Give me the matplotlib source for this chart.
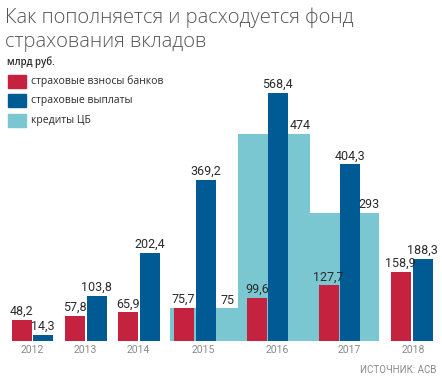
import matplotlib
matplotlib.use("Agg")
import matplotlib.pyplot as plt
from matplotlib.patches import Rectangle

years = ["2012", "2013", "2014", "2015", "2016", "2017", "2018"]
contributions = [48.2, 57.8, 65.9, 75.7, 99.6, 127.7, 158.9]
payouts = [14.3, 103.8, 202.4, 369.2, 568.4, 404.3, 188.3]
cb_years = ["2015", "2016", "2017"]
cb_loans = [75, 474, 293]

legend_labels = ["страховые взносы банков", "страховые выплаты", "кредиты ЦБ"]
title = "Как пополняется и расходуется фонд\nстрахования вкладов"
unit = "млрд руб."
source = "ИСТОЧНИК: АСВ"

# layout (pixel-like x units)
red_left = [12, 65, 118, 174, 247, 319, 391]
blue_left = [33, 87, 140, 196, 268, 340, 413]
bar_w = 19.5
cb_span = [(170, 237.5), (237.5, 310), (310, 379)]
year_x = [32, 85, 138, 203, 277, 349, 413]

RED = "#C5223F"
BLUE = "#005A94"
LIGHT = "#7AC7D1"
TXT = "#2b2b2b"

num_font = ["Liberation Sans Narrow", "Roboto", "DejaVu Sans"]
txt_font = ["Open Sans", "DejaVu Sans"]

W, H = 442, 380
fig = plt.figure(figsize=(W / 100, H / 100), dpi=100)
base_px = 341
ymax = 600
px_per_unit = 0.4367
ax_h = ymax * px_per_unit
ax = fig.add_axes([0, (H - base_px) / H, 1, ax_h / H])
ax.set_xlim(0, W)
ax.set_ylim(0, ymax)
ax.axis("off")

def fmt(v):
    if float(v).is_integer():
        return str(int(v))
    return f"{v:.1f}".replace(".", ",")

LBL = dict(ha="center", va="bottom", fontsize=9, family=num_font, color=TXT,
           fontweight="normal", zorder=3)

# light blue CB loans (behind)
for (l, r), v in zip(cb_span, cb_loans):
    ax.bar(l, v, width=r - l, align="edge", color=LIGHT, zorder=1, linewidth=0)
    ax.text(r - 10, v + 4, fmt(v), **LBL)

for i, y in enumerate(years):
    ax.bar(red_left[i], contributions[i], width=bar_w, align="edge", color=RED,
           zorder=2, linewidth=0)
    ax.bar(blue_left[i], payouts[i], width=bar_w, align="edge", color=BLUE,
           zorder=2, linewidth=0)
    ax.text(red_left[i] + bar_w / 2, contributions[i] + 4, fmt(contributions[i]), **LBL)
    ax.text(blue_left[i] + bar_w / 2, payouts[i] + 4, fmt(payouts[i]), **LBL)

# year labels
for x, y in zip(year_x, years):
    fig.text(x / W, 1 - 350 / H, y, ha="center", va="center", fontsize=7.5,
             family=num_font, color="#8a8a8a")

# title
fig.text(5 / W, 1 - 8 / H, title, ha="left", va="top", fontsize=14.5,
         family=txt_font, color="#555555", fontweight="light", linespacing=1.2)
fig.text(7 / W, 1 - 62 / H, unit, ha="left", va="center", fontsize=7,
         family=txt_font, color=TXT, fontweight="semibold")

# legend
for k, (lab, col) in enumerate(zip(legend_labels, [RED, BLUE, LIGHT])):
    yc = 81 + k * 19.5
    fig.patches.append(Rectangle((8 / W, 1 - (yc + 6.5) / H), 18 / W, 13 / H,
                                 transform=fig.transFigure, color=col))
    fig.text(31 / W, 1 - yc / H, lab, ha="left", va="center", fontsize=7.5,
             family=txt_font, color=TXT)

fig.text(436 / W, 1 - 370 / H, source, ha="right", va="center", fontsize=7,
         family=num_font, color="#8a8a8a")

fig.savefig("out.png", dpi=100)
